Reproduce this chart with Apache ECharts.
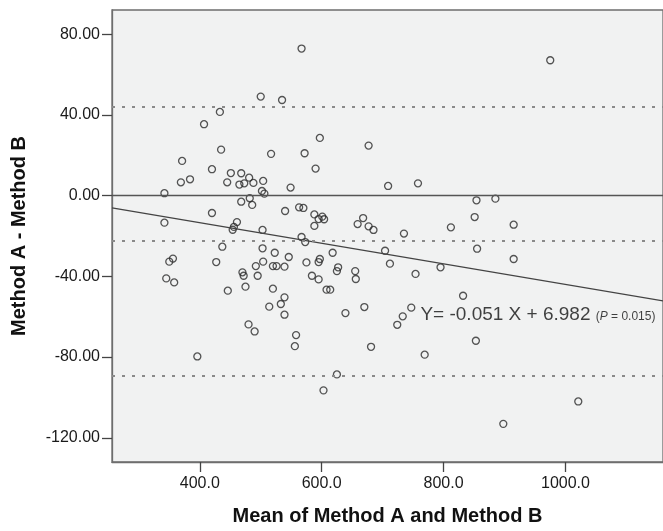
<!DOCTYPE html>
<html lang="en">
<head>
    <meta charset="utf-8" />
    <title>Bland-Altman</title>
    <script type="text/javascript" src="https://cdn.jsdelivr.net/npm/echarts@6/dist/echarts.min.js"></script>
</head>
<body style="margin:0;background-color:#fff">
    <div id="container" style="width:663px;height:531px;"></div>
<script type="text/javascript">
    // mean of the two methods (x) and their difference (y)
    var meanVals = [567, 975, 500, 535, 433, 407, 597, 677, 435, 572,
        517, 371, 590, 420, 451, 468, 481, 384, 369, 445,
        465, 473, 488, 504, 549, 758, 709, 342, 502, 506,
        482, 468, 486, 854, 885, 563, 570, 540, 420, 588,
        601, 604, 595, 668, 851, 342, 461, 456, 454, 659,
        677, 685, 915, 812, 588, 503, 567, 573, 735, 437,
        503, 523, 618, 704, 855, 546, 356, 350, 427, 504,
        575, 597, 595, 712, 915, 492, 520, 526, 539, 627,
        625, 655, 795, 470, 472, 495, 584, 595, 656, 754,
        345, 358, 475, 446, 520, 608, 614, 539, 832, 514,
        533, 670, 747, 539, 639, 733, 724, 480, 490, 558,
        556, 681, 853, 769, 396, 625, 603, 1021, 898];
    var diffVals = [72.9, 67.1, 49.1, 47.4, 41.5, 35.4, 28.6, 24.8, 22.8, 21.0,
        20.7, 17.2, 13.4, 13.1, 11.2, 11.1, 8.9, 8.1, 6.6, 6.6,
        5.5, 6.1, 6.3, 7.3, 4.0, 6.1, 4.8, 1.2, 2.3, 1.0,
        -1.3, -3.0, -4.6, -2.3, -1.5, -5.8, -6.1, -7.6, -8.6, -9.3,
        -10.4, -11.7, -11.6, -11.1, -10.6, -13.4, -13.1, -15.5, -16.9, -14.1,
        -15.2, -17.0, -14.4, -15.7, -15.0, -17.0, -20.5, -23.0, -18.8, -25.3,
        -26.1, -28.3, -28.3, -27.3, -26.3, -30.4, -31.2, -32.7, -32.9, -32.7,
        -33.1, -31.4, -32.9, -33.7, -31.4, -34.9, -34.9, -34.9, -35.2, -35.5,
        -37.4, -37.4, -35.5, -38.0, -39.7, -39.7, -39.7, -41.5, -41.3, -38.8,
        -41.0, -43.0, -45.1, -47.1, -46.1, -46.6, -46.6, -50.4, -49.6, -55.0,
        -53.7, -55.2, -55.5, -59.0, -58.2, -59.8, -64.0, -63.8, -67.3, -69.1,
        -74.6, -74.9, -71.9, -78.8, -79.7, -88.6, -96.5, -102.0, -113.1];

    var zeroLine = 0;
    var limitLines = [44.2, -22.5, -89.2];   // upper LoA, mean bias, lower LoA
    var regLine = [[256, -6.1], [1160, -52.2]];
    var eqPos = [762, -58.9];

    var xTicks = [400, 600, 800, 1000];
    var yTicks = [-120, -80, -40, 0, 40, 80];

    var points = [];
    for (var i = 0; i < meanVals.length; i++) {
        points.push([meanVals[i], diffVals[i]]);
    }

    var font = "'Liberation Sans', Arial, sans-serif";
    var dom = document.getElementById("container");
    var myChart = echarts.init(dom);

    var option = {
        animation: false,
        backgroundColor: '#fff',
        grid: {
            left: 112, top: 10, right: -9, bottom: 65,
            show: true,
            backgroundColor: '#f1f2f2',
            borderColor: '#6e6e6e',
            borderWidth: 1.3
        },
        xAxis: {
            type: 'value',
            min: 256, max: 1160,
            name: 'Mean of Method A and Method B',
            nameLocation: 'middle',
            nameGap: 44,
            nameTextStyle: { fontFamily: font, fontSize: 20, fontWeight: 'bold', color: '#111' },
            axisLine: { show: true, onZero: false, lineStyle: { color: '#6e6e6e', width: 1.3 } },
            axisTick: { show: true, length: 10, customValues: xTicks, lineStyle: { color: '#444', width: 1.3 } },
            axisLabel: {
                customValues: xTicks, margin: 14,
                fontFamily: font, fontSize: 16, color: '#1a1a1a',
                formatter: function (v) { return v.toFixed(1); }
            },
            splitLine: { show: false }
        },
        yAxis: {
            type: 'value',
            min: -132, max: 92,
            name: 'Method A - Method B',
            nameLocation: 'middle',
            nameGap: 83,
            nameTextStyle: { fontFamily: font, fontSize: 20, fontWeight: 'bold', color: '#111' },
            axisLine: { show: true, onZero: false, lineStyle: { color: '#6e6e6e', width: 1.3 } },
            axisTick: { show: true, length: 10, customValues: yTicks, lineStyle: { color: '#444', width: 1.3 } },
            axisLabel: {
                customValues: yTicks, margin: 12,
                fontFamily: font, fontSize: 16, color: '#1a1a1a',
                formatter: function (v) { return v.toFixed(2); }
            },
            splitLine: { show: false }
        },
        series: [
            {
                name: 'diff',
                type: 'scatter',
                data: points,
                symbol: 'circle',
                symbolSize: 7,
                itemStyle: { color: 'rgba(0,0,0,0)', borderColor: '#2b2b2b', borderWidth: 1.3 },
                markLine: {
                    silent: true,
                    symbol: 'none',
                    label: { show: false },
                    data: [
                        { yAxis: zeroLine, lineStyle: { type: 'solid', color: '#555', width: 1.4 } }
                    ].concat(limitLines.map(function (v) {
                        return { yAxis: v, lineStyle: { type: [3, 7], color: '#8a8a8a', width: 2 } };
                    }))
                }
            },
            {
                name: 'fit',
                type: 'line',
                data: regLine,
                symbol: 'none',
                lineStyle: { color: '#444', width: 1.3 }
            },
            {
                name: 'equation',
                type: 'scatter',
                data: [eqPos],
                symbolSize: 0,
                silent: true,
                label: {
                    show: true,
                    position: 'right',
                    distance: 0,
                    formatter: '{a|Y= -0.051 X + 6.982 }{b|(}{i|P}{b| = 0.015)}',
                    rich: {
                        a: { fontFamily: font, fontSize: 19, color: '#111' },
                        b: { fontFamily: font, fontSize: 12, color: '#111', padding: [5, 0, 0, 0] },
                        i: { fontFamily: font, fontSize: 12, fontStyle: 'italic', color: '#111', padding: [5, 0, 0, 0] }
                    }
                }
            }
        ]
    };
    myChart.setOption(option, true);
</script>
</body>
</html>
